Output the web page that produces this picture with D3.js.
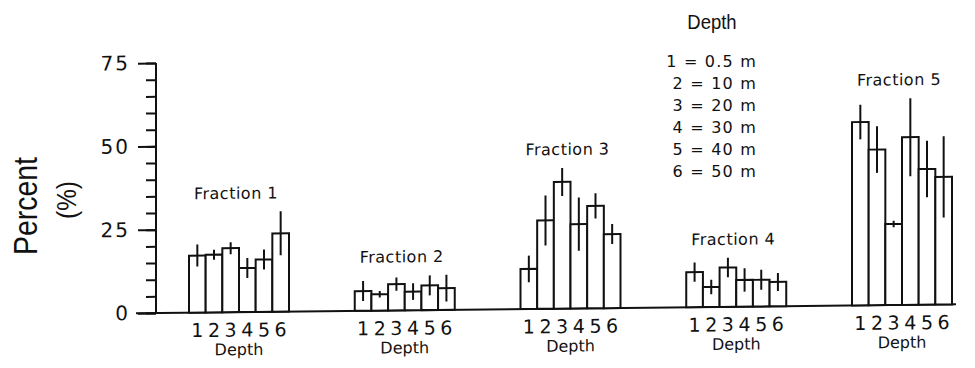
<!DOCTYPE html>
<html>
<head>
<meta charset="utf-8">
<script src="https://cdn.jsdelivr.net/npm/d3@7"></script>
<style>
  html, body { margin: 0; padding: 0; background: #fff; }
  svg { display: block; }
</style>
</head>
<body>
<div id="chart"></div>
<script>
// ---------- data ----------
const fractions = ["Fraction 1", "Fraction 2", "Fraction 3", "Fraction 4", "Fraction 5"];
const depths = ["1", "2", "3", "4", "5", "6"];
const f1Mean = [17.1, 17.3, 19.2, 13.2, 15.7, 23.5];
const f1Err  = [3.3, 1.5, 1.8, 3.0, 3.0, 6.6];
const f2Mean = [5.9, 4.9, 7.9, 5.6, 7.4, 6.5];
const f2Err  = [3.0, 1.0, 2.0, 2.5, 3.0, 4.0];
const f3Mean = [12.0, 26.5, 38.0, 25.3, 30.7, 22.2];
const f3Err  = [4.0, 7.5, 4.2, 8.0, 3.8, 3.0];
const f4Mean = [10.5, 6.0, 11.8, 8.0, 8.0, 7.3];
const f4Err  = [2.9, 2.2, 2.9, 3.5, 3.0, 2.7];
const f5Mean = [55.0, 46.7, 24.3, 50.3, 40.7, 38.3];
const f5Err  = [5.2, 7.0, 1.0, 11.7, 8.5, 12.2];
const yTicksMajor = [0, 25, 50, 75];
const yTickLabels = ["0", "25", "50", "75"];
const yTicksMinor = d3.range(0, 76, 5);
const legendTitle = "Depth";
const legendRows = ["1 = 0.5 m", "2 = 10 m", "3 = 20 m", "4 = 30 m", "5 = 40 m", "6 = 50 m"];
const yTitle = "Percent";
const yTitle2 = "(%)";
const xTitle = "Depth";

const series = fractions.map((name, i) => ({
  name,
  mean: [f1Mean, f2Mean, f3Mean, f4Mean, f5Mean][i],
  err:  [f1Err, f2Err, f3Err, f4Err, f5Err][i]
}));

// ---------- layout ----------
const W = 975, H = 368;
const axisX = 156;
const narrow = "'Liberation Sans Narrow', 'Arial Narrow', 'Liberation Sans', sans-serif";
const geo = "'DejaVu Sans', 'Open Sans', sans-serif";

const svg = d3.select("#chart").append("svg")
  .attr("width", W).attr("height", H)
  .attr("viewBox", `0 0 ${W} ${H}`);

const y = d3.scaleLinear().domain([0, 75]).range([313, 63]);
const x0 = d3.scaleBand().domain(fractions).range([189, 952]).paddingInner(0.3967).paddingOuter(0);
const x1 = d3.scaleBand().domain(depths).range([0, x0.bandwidth()]).padding(0);

// slight tilt of the scanned original
const plot = svg.append("g")
  .attr("transform", `translate(${axisX},${y(0)}) skewY(-0.62) translate(${-axisX},${-y(0)})`);

// y axis: minor ticks
plot.append("g")
  .attr("transform", `translate(${axisX},0)`)
  .call(d3.axisLeft(y).tickValues(yTicksMinor).tickSize(10).tickFormat(""))
  .call(g => g.select(".domain").remove())
  .call(g => g.selectAll("line").attr("stroke", "#111").attr("stroke-width", 2));

// y axis: major ticks + labels
plot.append("g")
  .attr("transform", `translate(${axisX},0)`)
  .call(d3.axisLeft(y).tickValues(yTicksMajor).tickSize(18).tickPadding(8)
        .tickFormat((d, i) => yTickLabels[i]))
  .call(g => g.select(".domain").remove())
  .call(g => g.selectAll("line").attr("stroke", "#111").attr("stroke-width", 2))
  .call(g => g.selectAll("text").attr("font-family", geo).attr("font-size", 20)
        .attr("fill", "#111").attr("letter-spacing", 2));

// axis line
plot.append("line")
  .attr("x1", axisX).attr("x2", axisX)
  .attr("y1", y(0)).attr("y2", y(75))
  .attr("stroke", "#111").attr("stroke-width", 2);

// baseline
plot.append("line")
  .attr("x1", 136).attr("x2", 956)
  .attr("y1", y(0)).attr("y2", y(0))
  .attr("stroke", "#111").attr("stroke-width", 2);

// groups
const groups = plot.selectAll("g.grp").data(series).join("g")
  .attr("class", "grp")
  .attr("transform", d => `translate(${x0(d.name)},0)`);

groups.selectAll("rect").data(d => d.mean.map((v, i) => ({ v, e: d.err[i], k: depths[i] })))
  .join("rect")
  .attr("x", d => x1(d.k))
  .attr("y", d => y(d.v))
  .attr("width", x1.bandwidth())
  .attr("height", d => y(0) - y(d.v))
  .attr("fill", "#fff")
  .attr("stroke", "#111")
  .attr("stroke-width", 2);

groups.selectAll("line.err").data(d => d.mean.map((v, i) => ({ v, e: d.err[i], k: depths[i] })))
  .join("line")
  .attr("class", "err")
  .attr("x1", d => x1(d.k) + x1.bandwidth() / 2)
  .attr("x2", d => x1(d.k) + x1.bandwidth() / 2)
  .attr("y1", d => y(d.v + d.e))
  .attr("y2", d => y(Math.max(0, d.v - d.e)))
  .attr("stroke", "#111")
  .attr("stroke-width", 2);

// depth digit axis under each group
groups.each(function() {
  d3.select(this).append("g")
    .attr("transform", `translate(0,${y(0)})`)
    .call(d3.axisBottom(x1).tickSize(0).tickPadding(11))
    .call(g => g.select(".domain").remove())
    .call(g => g.selectAll("text").attr("font-family", geo).attr("font-size", 19)
          .attr("fill", "#111").attr("dy", "0.71em"));
});

// "Depth" below each group
groups.append("text")
  .attr("x", x0.bandwidth() / 2)
  .attr("y", y(0) + 43)
  .attr("text-anchor", "middle")
  .attr("font-family", geo).attr("font-size", 16).attr("fill", "#111")
  .text(xTitle);

// fraction labels
groups.append("text")
  .attr("x", x0.bandwidth() / 2 - 3)
  .attr("y", d => y(d3.max(d.mean, (v, i) => v + d.err[i])) - 13)
  .attr("text-anchor", "middle")
  .attr("font-family", geo).attr("font-size", 16).attr("fill", "#111")
  .attr("letter-spacing", 0.5)
  .text(d => d.name);

// y title
svg.append("text")
  .attr("transform", "translate(37,206) rotate(-90) scale(0.86,1)")
  .attr("text-anchor", "middle")
  .attr("font-family", narrow).attr("font-size", 33).attr("fill", "#111")
  .text(yTitle);
svg.append("text")
  .attr("transform", "translate(76,200) rotate(-90) scale(0.9,1)")
  .attr("text-anchor", "middle")
  .attr("font-family", narrow).attr("font-size", 27).attr("fill", "#111")
  .text(yTitle2);

// legend
const legend = svg.append("g");
legend.append("text")
  .attr("transform", "translate(712,29) scale(0.88,1)")
  .attr("text-anchor", "middle")
  .attr("font-family", narrow).attr("font-size", 21).attr("fill", "#111")
  .text(legendTitle);
legend.selectAll("text.row").data(legendRows).join("text")
  .attr("class", "row")
  .attr("x", 757)
  .attr("y", (d, i) => 67 + i * 22)
  .attr("text-anchor", "end")
  .attr("font-family", geo).attr("font-size", 16).attr("fill", "#111")
  .attr("letter-spacing", 1.2)
  .text(d => d);
</script>
</body>
</html>
